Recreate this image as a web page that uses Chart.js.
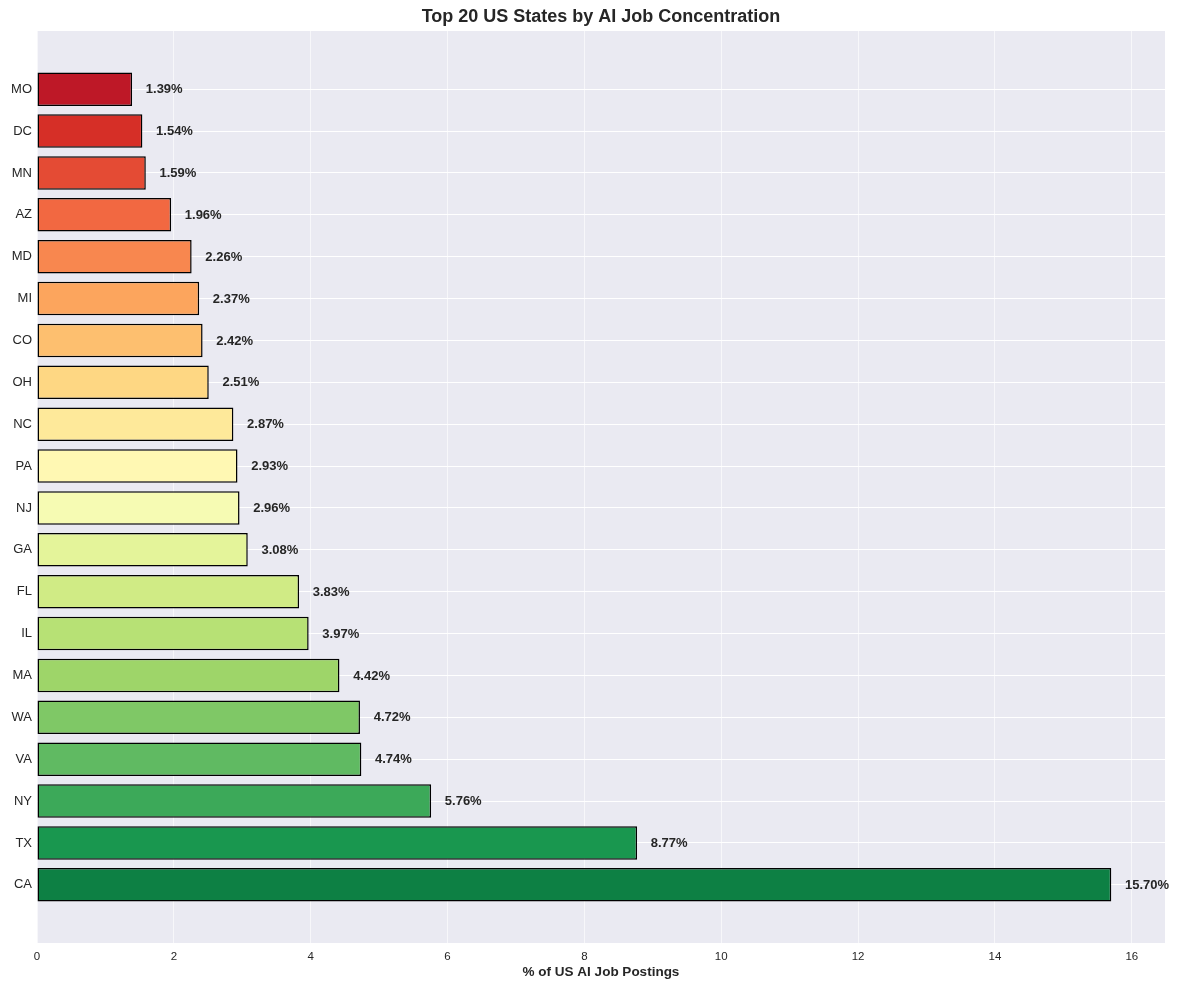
<!DOCTYPE html>
<html>
<head>
<meta charset="utf-8">
<script src="https://cdn.jsdelivr.net/npm/chart.js@4.4.1/dist/chart.umd.min.js"></script>
<style>
  html, body { margin: 0; padding: 0; background: #ffffff; }
  #wrap { width: 1182px; height: 989px; }
</style>
</head>
<body>
<div id="wrap"><canvas id="chart"></canvas></div>
<script>
// bottom to top, as in the picture
const states = ['CA', 'TX', 'NY', 'VA', 'WA', 'MA', 'IL', 'FL', 'GA', 'NJ',
                'PA', 'NC', 'OH', 'CO', 'MI', 'MD', 'AZ', 'MN', 'DC', 'MO'];
const shares = [15.70, 8.77, 5.76, 4.74, 4.72, 4.42, 3.97, 3.83, 3.08, 2.96,
                2.93, 2.87, 2.51, 2.42, 2.37, 2.26, 1.96, 1.59, 1.54, 1.39];
const xTicks = [0, 2, 4, 6, 8, 10, 12, 14, 16];
const chartTitle = 'Top 20 US States by AI Job Concentration';

// RdYlGn stops
const rdylgn = [
  [165, 0, 38], [215, 48, 39], [244, 109, 67], [253, 174, 97], [254, 224, 139],
  [255, 255, 191], [217, 239, 139], [166, 217, 106], [102, 189, 99], [26, 152, 80], [0, 104, 55]
];
function cmap(t) {
  const p = t * 10;
  const i = Math.min(9, Math.floor(p));
  const f = p - i;
  const a = rdylgn[i], b = rdylgn[i + 1];
  const c = a.map((v, k) => Math.round(v + (b[k] - v) * f));
  return 'rgb(' + c.join(',') + ')';
}
const colors = states.map((s, i) => cmap(0.95 - 0.9 * i / (states.length - 1)));

const FONT = '"Liberation Sans", Arial, sans-serif';

const bgPlugin = {
  id: 'plotBg',
  beforeDraw(chart) {
    const { ctx, chartArea: a } = chart;
    ctx.save();
    ctx.fillStyle = '#EAEAF2';
    ctx.fillRect(a.left, a.top, a.right - a.left, a.bottom - a.top);
    ctx.restore();
  }
};

// value labels next to bars, and title centred over the plot area
const labelPlugin = {
  id: 'valueLabels',
  afterDatasetsDraw(chart) {
    const { ctx, chartArea: a } = chart;
    const xs = chart.scales.x, ys = chart.scales.y;
    ctx.save();
    ctx.font = 'bold 13px ' + FONT;
    ctx.fillStyle = '#262626';
    ctx.textAlign = 'left';
    ctx.textBaseline = 'middle';
    shares.forEach((v, i) => {
      ctx.fillText(v.toFixed(2) + '%', xs.getPixelForValue(v + 0.2), ys.getPixelForValue(i) + 0.5);
    });
    ctx.font = 'bold 18px ' + FONT;
    ctx.textAlign = 'center';
    ctx.fillText(chartTitle, (a.left + a.right) / 2, 17);
    ctx.restore();
  }
};

new Chart(document.getElementById('chart'), {
  type: 'bar',
  data: {
    datasets: [{
      data: shares.map((v, i) => ({ x: v, y: i })),
      backgroundColor: colors,
      borderColor: '#000000',
      borderWidth: 1.5,
      borderSkipped: false,
      barPercentage: 0.8,
      categoryPercentage: 1.0
    }]
  },
  options: {
    indexAxis: 'y',
    responsive: true,
    maintainAspectRatio: false,
    animation: false,
    layout: { padding: { left: 0, right: 17, top: 31, bottom: 0 } },
    plugins: {
      legend: { display: false },
      tooltip: { enabled: false },
      title: { display: false }
    },
    scales: {
      x: {
        type: 'linear',
        min: 0,
        max: 16.485,
        border: { display: false },
        grid: { color: 'rgba(255,255,255,0.6)', lineWidth: 1, drawTicks: false },
        afterBuildTicks(scale) { scale.ticks = xTicks.map(v => ({ value: v })); },
        afterFit(scale) { scale.height = 46; },
        ticks: {
          padding: 7,
          color: '#262626',
          font: { family: FONT, size: 11.5 }
        },
        title: {
          display: true,
          text: '% of US AI Job Postings',
          color: '#262626',
          font: { family: FONT, size: 13.5, weight: 'bold' },
          padding: { top: 0, bottom: 9 }
        }
      },
      y: {
        type: 'linear',
        min: -1.39,
        max: 20.39,
        offset: false,
        border: { display: false },
        grid: { color: '#ffffff', lineWidth: 1, drawTicks: false, offset: false },
        afterBuildTicks(scale) { scale.ticks = states.map((s, i) => ({ value: i })); },
        afterFit(scale) { scale.width = 37; },
        ticks: {
          padding: 5,
          color: '#262626',
          font: { family: FONT, size: 13 },
          callback: (v) => states[v]
        }
      }
    }
  },
  plugins: [bgPlugin, labelPlugin]
});
</script>
</body>
</html>
